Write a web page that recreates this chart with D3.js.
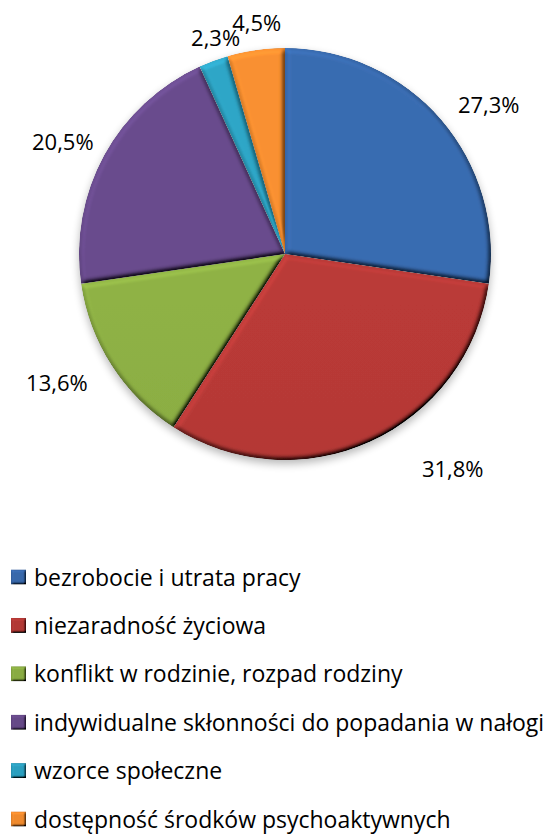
<!DOCTYPE html>
<html>
<head>
<meta charset="utf-8">
<script src="https://cdn.jsdelivr.net/npm/d3@7"></script>
<style>
  html, body { margin: 0; padding: 0; background: #fff; }
  svg { display: block; }
</style>
</head>
<body>
<svg id="chart" width="552" height="834"></svg>
<script>
// Causes, shares in percent
const categories = [
  "bezrobocie i utrata pracy",
  "niezaradność życiowa",
  "konflikt w rodzinie, rozpad rodziny",
  "indywidualne skłonności do popadania w nałogi",
  "wzorce społeczne",
  "dostępność środków psychoaktywnych"
];
const values = [27.3, 31.8, 13.6, 20.5, 2.3, 4.5];
const colors = ["#3767aa", "#b23835", "#89ab42", "#654887", "#2c9fbf", "#ef8a2e"];

const W = 552, H = 834;
const cx = 285, cy = 254, R = 206;
const FONT = "'Open Sans', 'Noto Sans', sans-serif";

const svg = d3.select("#chart");
const defs = svg.append("defs");

// Soft-round bevel: diffuse light from the upper left on a blurred alpha height map
function bevel(id, blur, scale) {
  const f = defs.append("filter").attr("id", id)
    .attr("x", "-5%").attr("y", "-5%").attr("width", "110%").attr("height", "110%");
  f.append("feGaussianBlur").attr("in", "SourceAlpha").attr("stdDeviation", blur).attr("result", "b");
  const lt = f.append("feDiffuseLighting").attr("in", "b").attr("surfaceScale", scale)
    .attr("diffuseConstant", 1).attr("lighting-color", "#fff").attr("result", "lit");
  lt.append("feDistantLight").attr("azimuth", 235).attr("elevation", 55);
  f.append("feComposite").attr("in", "SourceGraphic").attr("in2", "lit")
    .attr("operator", "arithmetic").attr("k1", 1 / Math.sin(55 * Math.PI / 180))
    .attr("k2", 0).attr("k3", 0).attr("k4", 0).attr("result", "shade");
  f.append("feComposite").attr("in", "shade").attr("in2", "SourceAlpha").attr("operator", "in");
}
bevel("bevelPie", 2.6, 5);
bevel("bevelKey", 1.2, 3);

const shadow = defs.append("filter").attr("id", "shadow")
  .attr("x", "-20%").attr("y", "-20%").attr("width", "140%").attr("height", "140%");
shadow.append("feGaussianBlur").attr("stdDeviation", 4);

// Vertical tint for each slice colour
colors.forEach((c, i) => {
  const g = defs.append("linearGradient").attr("id", "g" + i)
    .attr("gradientUnits", "userSpaceOnUse")
    .attr("x1", 0).attr("y1", cy - R).attr("x2", 0).attr("y2", cy + R);
  g.append("stop").attr("offset", 0).attr("stop-color", d3.color(c).brighter(0.12));
  g.append("stop").attr("offset", 1).attr("stop-color", d3.color(c).darker(0.12));
});

const pie = d3.pie().sort(null).value(d => d)(values);
const arc = d3.arc().innerRadius(0).outerRadius(R);

const g = svg.append("g").attr("transform", `translate(${cx},${cy})`);

// shadow under the pie
g.append("circle").attr("cx", 0).attr("cy", 4).attr("r", R)
  .attr("fill", "#000").attr("opacity", 0.28).attr("filter", "url(#shadow)");

g.selectAll("path.slice").data(pie).join("path")
  .attr("class", "slice")
  .attr("d", arc)
  .attr("fill", (d, i) => `url(#g${i})`)
  .attr("filter", "url(#bevelPie)");

// Percentage labels outside each slice
const fmt = v => v.toFixed(1).replace(".", ",") + "%";
const labelFont = 22;
const gap = 12;
// fine placement tweaks (px) for crowded labels
const nudge = [[8, 2], [57, 9], [-14, 4], [0, 1], [20, -3], [8, -7]];

const labels = g.selectAll("text.val").data(pie).join("text")
  .attr("class", "val")
  .attr("font-family", FONT).attr("font-size", labelFont).attr("fill", "#000")
  .attr("text-anchor", "middle")
  .text(d => fmt(d.data));

labels.each(function (d, i) {
  const bb = this.getBBox();
  const a = (d.startAngle + d.endAngle) / 2;
  const ux = Math.sin(a), uy = -Math.cos(a);
  const hw = bb.width / 2, hh = 8;
  const x = ux * (R + gap) + Math.sign(ux) * hw * Math.min(1, Math.abs(ux) * 1.6) + nudge[i][0];
  const y = uy * (R + gap) + Math.sign(uy) * hh + nudge[i][1];
  d3.select(this).attr("x", x).attr("y", y + 7.5);
});

// Legend
const legend = svg.append("g").attr("transform", "translate(11,0)");
const rowY = d3.scalePoint().domain(d3.range(categories.length)).range([577, 819]);
const items = legend.selectAll("g.item").data(categories).join("g")
  .attr("class", "item")
  .attr("transform", (d, i) => `translate(0,${rowY(i)})`);
items.append("rect").attr("x", 0).attr("y", -7.5).attr("width", 15).attr("height", 15)
  .attr("fill", (d, i) => colors[i]).attr("filter", "url(#bevelKey)");
items.append("text").attr("x", 23).attr("y", 8.5)
  .attr("font-family", FONT).attr("font-size", 23).attr("fill", "#000")
  .text(d => d);
</script>
</body>
</html>
